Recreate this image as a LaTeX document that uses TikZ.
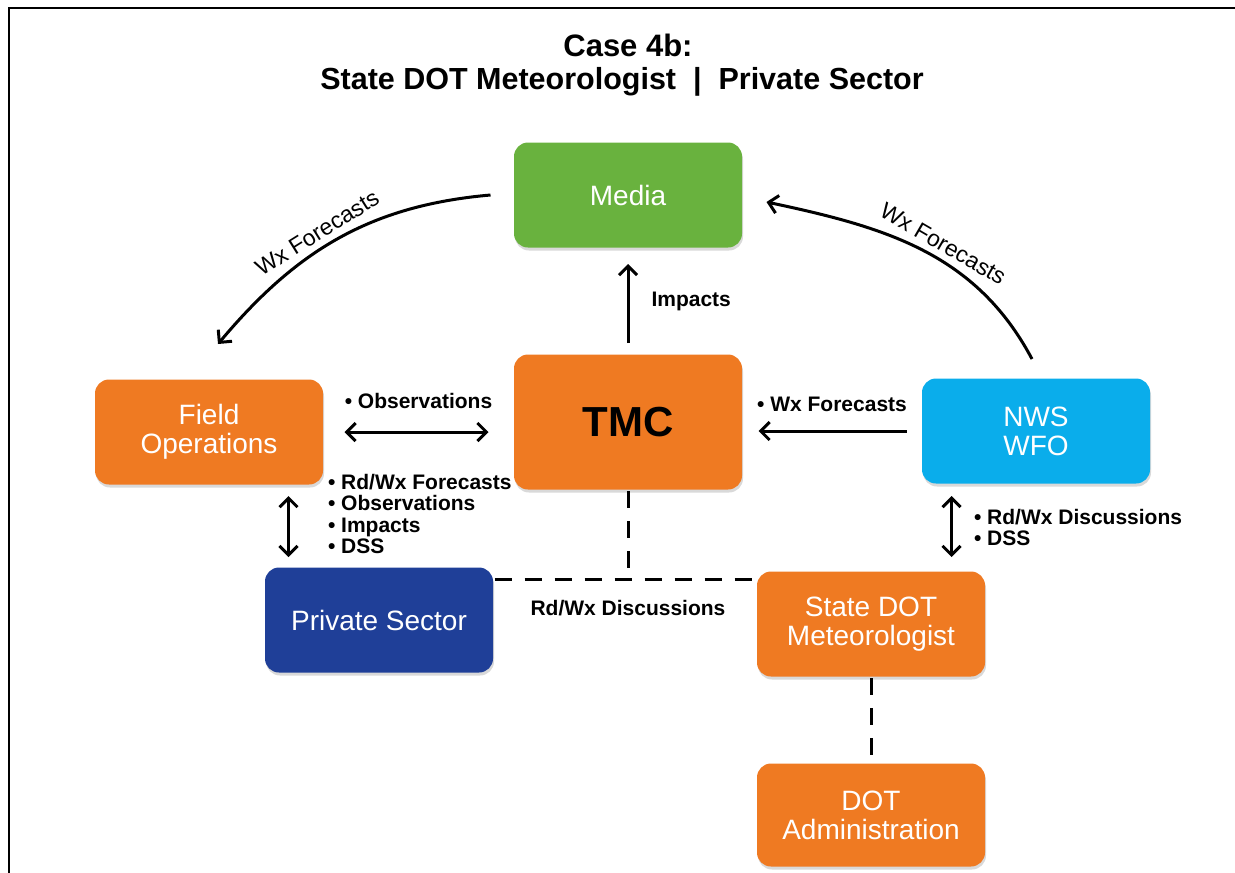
\documentclass[tikz,border=0pt]{standalone}
\usepackage{fontspec}
\setmainfont{Liberation Sans}
\usetikzlibrary{arrows.meta}
\usetikzlibrary{shadows}
\definecolor{dotorange}{HTML}{EF7A22}
\definecolor{mediagreen}{HTML}{69B23E}
\definecolor{nwsblue}{HTML}{0AADEB}
\definecolor{privblue}{HTML}{1F3F98}
\begin{document}
\begin{tikzpicture}[x=1pt, y=1pt, >={Straight Barb[length=9pt,width=18pt]}, line width=3pt,
	box/.style={rounded corners=14pt, minimum width=228pt, minimum height=105pt, inner sep=0pt, align=center, text=white, font=\fontsize{28}{29}\selectfont, drop shadow={shadow xshift=1pt, shadow yshift=-3pt, opacity=0.3}},
	lbl/.style={inner sep=0pt, align=left, font=\bfseries\fontsize{21}{21.5}\selectfont},
	arclbl/.style={inner sep=0pt, font=\fontsize{23}{24}\selectfont},
	dline/.style={dash pattern=on 17pt off 13pt}]
	\useasboundingbox (0,0) rectangle (1235,-873);
	%Frame
	\draw[line width=2.5pt] (1235,-8) -- (9,-8) -- (9,-873);
	%Title
	\node [inner sep=0pt, font=\bfseries\fontsize{31}{33}\selectfont] (title1) at (628,-45) {Case 4b:};
	\node [inner sep=0pt, font=\bfseries\fontsize{30.5}{33}\selectfont] (title2) at (622,-82) {State DOT Meteorologist \ | \ Private Sector};
	%Boxes
	\node [box, fill=mediagreen] (media) at (628,-195) {Media};
	\node [box, fill=dotorange, minimum height=135pt, text=black, font=\bfseries\fontsize{42}{44}\selectfont] (tmc) at (628,-422) {TMC};
	\node [box, fill=dotorange] (field) at (209,-432) {Field\\Operations};
	\node [box, fill=nwsblue] (nws) at (1036,-431) {NWS\\WFO};
	\node [box, fill=privblue] (private) at (379,-620) {Private Sector};
	\node [box, fill=dotorange] (state) at (871,-624) {State DOT\\Meteorologist};
	\node [box, fill=dotorange, minimum height=103pt] (admin) at (871,-815) {DOT\\Administration};
	%Forecast arcs
	\draw[->] ([xshift=-22pt]media.west) to [out=185, in=50] node [arclbl, sloped, above=6pt, pos=0.55] {Wx Forecasts} ([xshift=9pt,yshift=34pt]field.north);
	\draw[->] ([xshift=-4pt,yshift=18pt]nws.north) to [out=118, in=-12] node [arclbl, sloped, above=6pt, pos=0.45] {Wx Forecasts} ([xshift=23pt,yshift=-7pt]media.east);
	%Solid links
	\draw[->, shorten <=10pt, shorten >=15pt] (tmc) -- node [lbl, right=22pt] {Impacts} (media);
	\draw[<->, shorten <=20pt, shorten >=24pt] (field.east) -- node [lbl, above=22pt] {\textbullet\ Observations} (tmc.west |- field.east);
	\draw[->, shorten <=14pt, shorten >=15pt] (nws.west) -- node [lbl, above=18pt] {\textbullet\ Wx Forecasts} (tmc.east |- nws.west);
	\draw[<->, shorten <=10pt, shorten >=9pt] ([xshift=25pt]private.north west |- field.south) -- node [lbl, right=38pt, yshift=12pt] {\textbullet\ Rd/Wx Forecasts\\\textbullet\ Observations\\\textbullet\ Impacts\\\textbullet\ DSS} ([xshift=25pt]private.north west);
	\draw[<->, shorten <=11pt, shorten >=13pt] ([xshift=-35pt]state.north east |- nws.south) -- node [lbl, right=21pt] {\textbullet\ Rd/Wx Discussions\\\textbullet\ DSS} ([xshift=-35pt]state.north east);
	%Dashed links
	\coordinate (dl) at ([yshift=-13pt]private.north east);
	\draw[dline] (dl) -- (dl -| state.west);
	\draw[dline] (tmc.south) -- (tmc.south |- dl) node [lbl, below=20pt] {Rd/Wx Discussions};
	\draw[dline] (state.south) -- (admin.north);
\end{tikzpicture}
\end{document}
